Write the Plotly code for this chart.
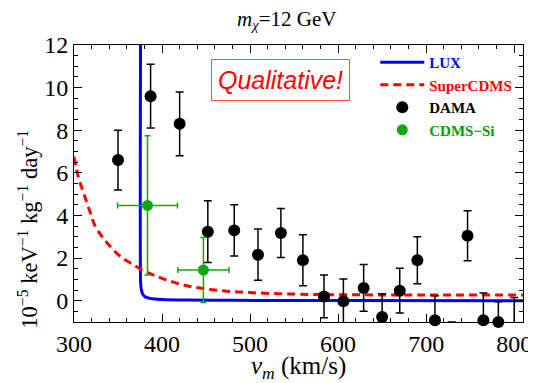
import plotly.graph_objects as go

# LUX limit curve
lux_v = [375.6, 375.6, 376.2, 377.0, 378.5, 381.0, 385.0, 392.0, 405.0, 430.0, 480.0, 600.0, 810.0]
lux_y = [13.0, 0.9, 0.6, 0.42, 0.28, 0.18, 0.12, 0.08, 0.05, 0.03, 0.015, 0.005, 0.0]

# SuperCDMS projection
scdms_v = [300, 305, 311, 318, 324, 332, 341, 352, 364, 378, 394, 412, 432, 460, 500, 550, 600, 700, 810]
scdms_y = [6.75, 5.8, 5.05, 4.2, 3.5, 3.0, 2.55, 2.1, 1.77, 1.43, 1.14, 0.88, 0.67, 0.5, 0.38, 0.31, 0.28, 0.27, 0.27]

# DAMA points
dama_v = [350, 387, 420, 452, 482, 509, 535, 560, 584, 606, 629, 650, 670, 690, 710, 747, 765, 782, 800]
dama_y = [6.6, 9.6, 8.3, 3.24, 3.3, 2.16, 3.18, 1.9, 0.2, -0.03, 0.6, -0.77, 0.47, 1.9, -0.92, 3.05, -0.92, -1.0, -1.1]
dama_err = [1.4, 1.5, 1.5, 1.45, 1.2, 1.2, 1.15, 1.2, 1.0, 1.05, 1.1, 1.1, 1.05, 1.1, 1.15, 1.17, 1.28, 0.95, 1.25]

# DAMA point far below the range (only its error bar tip shows)
dama_low_v = [729]
dama_low_y = [-2.25]
dama_low_err = [1.25]

# CDMS-Si points
cdms_v = [383.5, 447]
cdms_y = [4.47, 1.44]
cdms_xerr = [34, 29]
cdms_yerr = [3.27, 1.52]

serif = "Liberation Serif"

fig = go.Figure()
fig.add_trace(go.Scatter(x=lux_v, y=lux_y, mode="lines", name="<b><span style='color:#0000ff'>LUX</span></b>",
                         line=dict(color="#0000ff", width=3, shape="spline", smoothing=0.6)))
fig.add_trace(go.Scatter(x=scdms_v, y=scdms_y, mode="lines", name="<b><span style='color:#ff0000'>SuperCDMS</span></b>",
                         line=dict(color="#ff0000", width=3, dash="8px,5px", shape="spline")))
fig.add_trace(go.Scatter(x=dama_low_v, y=dama_low_y, mode="markers", showlegend=False,
                         marker=dict(color="black", size=12),
                         error_y=dict(type="data", array=dama_low_err, color="black", thickness=1.5, width=4)))
fig.add_trace(go.Scatter(x=dama_v, y=dama_y, mode="markers", name="<b><span style='color:#000000'>DAMA</span></b>",
                         marker=dict(color="black", size=12), cliponaxis=False,
                         error_y=dict(type="data", array=dama_err, color="black", thickness=1.5, width=4)))
fig.add_trace(go.Scatter(x=cdms_v, y=cdms_y, mode="markers", name="<b><span style='color:#00a000'>CDMS\u2212Si</span></b>",
                         marker=dict(color="#10a810", size=11),
                         error_x=dict(type="data", array=cdms_xerr, color="#10a810", thickness=1.5, width=3),
                         error_y=dict(type="data", array=cdms_yerr, color="#10a810", thickness=1.5, width=3)))

fig.add_annotation(x=0.461, y=0.874, xref="paper", yref="paper", xanchor="center", yanchor="middle",
                   text="<i>Qualitative!</i>",
                   showarrow=False, font=dict(family="Liberation Sans", size=25, color="#ff0000"),
                   bordercolor="#ff5050", borderwidth=1, borderpad=6, bgcolor="white")

# axis titles
fig.add_annotation(x=0.50, y=-0.165, xref="paper", yref="paper", xanchor="center", yanchor="middle",
                   text="<i>v<sub>m</sub></i> (km/s)", showarrow=False,
                   font=dict(family=serif, size=25, color="black"))
fig.add_annotation(x=-0.103, y=0.336, xref="paper", yref="paper", xanchor="center", yanchor="middle",
                   text="10<sup>\u22125</sup> keV<sup>\u22121</sup> kg<sup>\u22121</sup> day<sup>\u22121</sup>",
                   textangle=-90, showarrow=False,
                   font=dict(family=serif, size=22.5, color="black"))

axis_common = dict(showline=True, linecolor="black", linewidth=1, mirror="allticks", ticks="inside",
                   ticklen=8, tickwidth=1, tickcolor="black", showgrid=False, zeroline=False,
                   automargin=False, ticklabeloverflow="allow",
                   tickfont=dict(family=serif, size=24, color="black"))

fig.update_xaxes(range=[300, 810], dtick=100, tick0=300,
                 minor=dict(dtick=20, ticks="inside", ticklen=4, tickcolor="black", showgrid=False),
                 **axis_common)
fig.update_yaxes(range=[-1, 12], dtick=2, tick0=0,
                 minor=dict(dtick=0.5, ticks="inside", ticklen=4, tickcolor="black", showgrid=False),
                 **axis_common)

fig.update_layout(
    width=528, height=375,
    margin=dict(l=66, r=13, t=37, b=61, autoexpand=False),
    paper_bgcolor="white", plot_bgcolor="white",
    title=dict(text="<i>m</i><sub><i>\u03c7</i></sub>=12 GeV", x=0.528, xanchor="center", y=0.972, yanchor="middle",
               font=dict(family=serif, size=21, color="black")),
    legend=dict(x=0.671, y=0.996, xanchor="left", yanchor="top", bgcolor="rgba(0,0,0,0)",
                itemwidth=44,
                font=dict(family=serif, size=15, color="black"), tracegroupgap=0),
)

fig.write_html("out.html")
